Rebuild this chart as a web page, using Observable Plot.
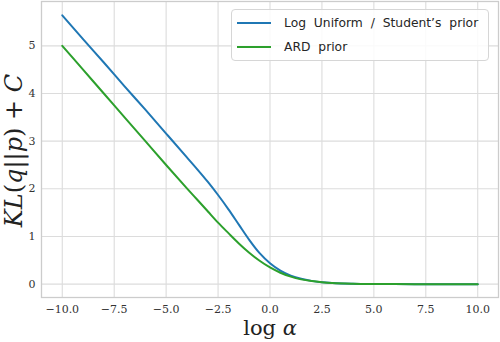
<!DOCTYPE html>
<html>
<head>
<meta charset="utf-8">
<script src="https://cdn.jsdelivr.net/npm/d3@7"></script>
<script src="https://cdn.jsdelivr.net/npm/@observablehq/plot@0.6"></script>
<style>
  body { margin: 0; background: white; }
  #wrap { position: relative; width: 500px; height: 342px; }
  #legend { position: absolute; left: 231px; top: 9px; width: 258px; height: 52px; box-sizing: border-box;
    border: 1px solid #d6d6d6; border-radius: 4px; background: rgba(255,255,255,0.85);
    font-family: "DejaVu Sans", sans-serif; font-size: 12.3px; word-spacing: 4px; color: #262626; }
  .row { position: absolute; left: 0; height: 20px; display: flex; align-items: center; }
  .sw { width: 34px; height: 2px; margin-left: 5px; margin-right: 13px; }
</style>
</head>
<body>
<div id="wrap"></div>
<script>
const logAlpha = [-10,-9,-8,-7,-6,-5,-4,-3.5,-3,-2.5,-2,-1.5,-1,-0.5,0,0.5,1,1.5,2,2.5,3,4,5,6,7,8,9,10];
const logUniformKL = [5.64,5.14,4.65,4.15,3.66,3.16,2.66,2.41,2.15,1.87,1.57,1.25,0.93,0.65,0.44,0.285,0.18,0.112,0.069,0.042,0.026,0.0095,0.0035,0.0013,0.0005,0.0002,0.0001,0.00005];
const ardKL = [5.00,4.50,4.00,3.50,3.00,2.50,2.01,1.77,1.53,1.29,1.07,0.855,0.66,0.49,0.35,0.24,0.157,0.10,0.064,0.04,0.024,0.009,0.0034,0.0012,0.0005,0.0002,0.0001,0.00005];
const seriesNames = ["Log Uniform / Student\u2019s prior", "ARD prior"];
const seriesColors = ["#1f77b4", "#2ca02c"];
const xTicks = [-10,-7.5,-5,-2.5,0,2.5,5,7.5,10];
const yTicks = [0,1,2,3,4,5];
const xLabel = "log α";
const yLabel = "KL(q||p) + C";

const rows = [];
logAlpha.forEach((x, i) => rows.push({x, y: logUniformKL[i], series: seriesNames[0]}));
logAlpha.forEach((x, i) => rows.push({x, y: ardKL[i], series: seriesNames[1]}));

const chart = Plot.plot({
  width: 500, height: 342,
  marginLeft: 41, marginRight: 2, marginTop: 1, marginBottom: 45,
  style: {fontFamily: "DejaVu Serif", fontSize: "11px", background: "white", color: "#333"},
  x: {domain: [-11, 11]},
  y: {domain: [-0.28, 5.93]},
  color: {domain: seriesNames, range: seriesColors},
  marks: [
    Plot.gridX(xTicks, {stroke: "#dcdcdc", strokeOpacity: 1, strokeWidth: 1.1}),
    Plot.gridY(yTicks, {stroke: "#dcdcdc", strokeOpacity: 1, strokeWidth: 1.1}),
    Plot.frame({stroke: "#cccccc", strokeWidth: 1.3}),
    Plot.axisX(xTicks, {tickSize: 0, tickPadding: 8, label: null, tickFormat: d3.format(".1f")}),
    Plot.axisY(yTicks, {tickSize: 0, tickPadding: 6, label: null, tickFormat: d3.format("d")}),
    Plot.line(rows, {x: "x", y: "y", z: "series", stroke: "series", strokeWidth: 2, curve: "monotone-x"}),
    Plot.text([xLabel], {frameAnchor: "bottom", lineAnchor: "middle", dy: 31, fontSize: 21, fill: "#222", className: "xlab"}),
    Plot.text([yLabel], {frameAnchor: "left", textAnchor: "middle", lineAnchor: "middle", dx: -27, dy: 1, rotate: -90, fontSize: 24, fill: "#222", className: "ylab"})
  ]
});
document.getElementById("wrap").appendChild(chart);

d3.select(chart).select(".xlab text").html('log <tspan font-style="italic">α</tspan>');
d3.select(chart).select(".ylab text").html('<tspan font-style="italic">KL</tspan>(<tspan font-style="italic">q</tspan>||<tspan font-style="italic">p</tspan>) + <tspan font-style="italic">C</tspan>');

const legend = document.createElement("div");
legend.id = "legend";
seriesNames.forEach((name, i) => {
  const row = document.createElement("div");
  row.className = "row";
  row.style.top = (3 + i * 23.5) + "px";
  const sw = document.createElement("div");
  sw.className = "sw";
  sw.style.background = seriesColors[i];
  const t = document.createElement("span");
  t.textContent = name;
  row.appendChild(sw); row.appendChild(t);
  legend.appendChild(row);
});
document.getElementById("wrap").appendChild(legend);
</script>
</body>
</html>
